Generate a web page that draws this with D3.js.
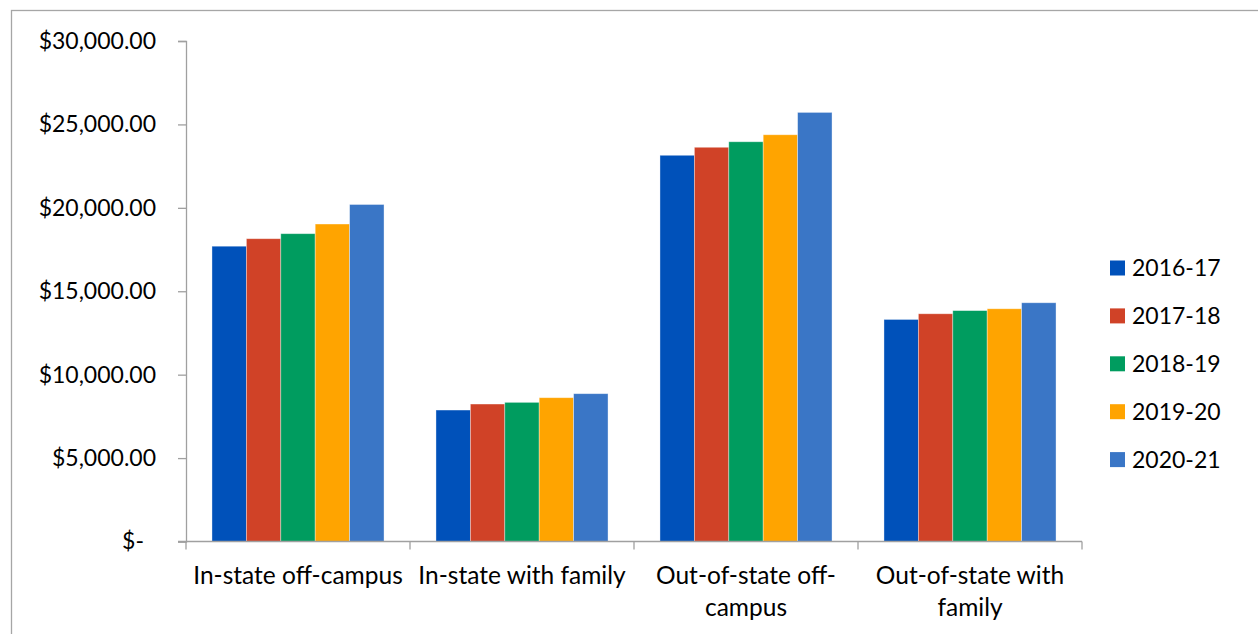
<!DOCTYPE html>
<html>
<head>
<meta charset="utf-8">
<script src="https://cdn.jsdelivr.net/npm/d3@7"></script>
<style>
  body { margin: 0; background: #fff; }
  text { font-family: Lato, 'Open Sans', sans-serif; fill: #000; }
</style>
</head>
<body>
<svg id="chart" width="1258" height="634"></svg>
<script>
// categories along the x axis
const categories = [
  'In-state off-campus',
  'In-state with family',
  'Out-of-state off-campus',
  'Out-of-state with family',
]
// one series per school year
const seriesNames = ['2016-17', '2017-18', '2018-19', '2019-20', '2020-21']
const values2016 = [17700, 7880, 23150, 13310]
const values2017 = [18150, 8240, 23630, 13650]
const values2018 = [18450, 8340, 23960, 13840]
const values2019 = [19030, 8620, 24380, 13950]
const values2020 = [20200, 8860, 25720, 14310]
const yTicks = [0, 5000, 10000, 15000, 20000, 25000, 30000]
const colors = ['#0051ba', '#d04227', '#009c5f', '#ffa400', '#3a76c6']

const seriesValues = [values2016, values2017, values2018, values2019, values2020]

const svg = d3.select('#chart')
const margin = { top: 41, right: 176, bottom: 92.5, left: 186 }
const width = +svg.attr('width') - margin.left - margin.right
const height = +svg.attr('height') - margin.top - margin.bottom

// outer chart frame (runs off the right and bottom of the picture)
svg.append('rect')
  .attr('x', 11.5).attr('y', 10.5)
  .attr('width', 1300).attr('height', 700)
  .attr('fill', 'none')
  .attr('stroke', '#a6a6a6')
  .attr('stroke-width', 1.3)

const g = svg.append('g').attr('transform', 'translate(' + margin.left + ',' + margin.top + ')')

const x0 = d3.scaleBand().domain(categories).range([0, width]).paddingInner(0).paddingOuter(0)
const x1 = d3.scaleBand().domain(seriesNames).range([0, x0.bandwidth()]).paddingInner(0).paddingOuter(0.755)
const y = d3.scaleLinear().domain([0, 30000]).range([height, 0])
const color = d3.scaleOrdinal().domain(seriesNames).range(colors)

const fmt = d3.format('$,.2f')

// Y axis
const yAxis = g.append('g')
  .call(d3.axisLeft(y).tickValues(yTicks).tickSize(8).tickPadding(22)
    .tickFormat((d) => (d === 0 ? '$-' : fmt(d))))
yAxis.select('.domain').attr('stroke', '#a0a0a0').attr('stroke-width', 1.3)
yAxis.selectAll('.tick line').attr('stroke', '#a0a0a0').attr('stroke-width', 1.3)
yAxis.selectAll('.tick text')
  .attr('font-size', 23)
  .attr('font-family', 'Lato, sans-serif')
  .attr('fill', '#000')
  .attr('dx', (d) => (d === 0 ? -12 : 0))

// Bars
g.selectAll('.group')
  .data(categories)
  .enter()
  .append('g')
  .attr('class', 'group')
  .attr('transform', (c) => 'translate(' + x0(c) + ',0)')
  .selectAll('rect')
  .data((c, i) => seriesNames.map((s, k) => ({ series: s, value: seriesValues[k][i] })))
  .enter()
  .append('rect')
  .attr('x', (d) => x1(d.series))
  .attr('y', (d) => y(d.value))
  .attr('width', x1.bandwidth())
  .attr('height', (d) => height - y(d.value))
  .attr('fill', (d) => color(d.series))
  .attr('stroke', '#ffffff')
  .attr('stroke-opacity', 0.45)
  .attr('stroke-width', 0.8)

// X axis line with ticks at category boundaries
const xAxis = g.append('g').attr('transform', 'translate(0,' + height + ')')
xAxis.append('line')
  .attr('x1', -8).attr('x2', width)
  .attr('stroke', '#a0a0a0').attr('stroke-width', 1.3)
const bounds = categories.map((c) => x0(c)).concat([x0(categories[categories.length - 1]) + x0.bandwidth()])
xAxis.selectAll('.bound')
  .data(bounds)
  .enter()
  .append('line')
  .attr('class', 'bound')
  .attr('x1', (d) => d).attr('x2', (d) => d)
  .attr('y1', 0).attr('y2', 8)
  .attr('stroke', '#a0a0a0').attr('stroke-width', 1.3)

// wrap long labels after a space or hyphen, like Excel does
const wrap = (label, maxChars) => {
  const parts = label.match(/[^\s-]+[\s-]?/g)
  const lines = []
  let line = ''
  parts.forEach((p) => {
    if ((line + p).trim().length > maxChars && line) {
      lines.push(line.trim())
      line = p
    } else {
      line += p
    }
  })
  lines.push(line.trim())
  return lines
}

xAxis.selectAll('.cat')
  .data(categories)
  .enter()
  .append('text')
  .attr('class', 'cat')
  .attr('text-anchor', 'middle')
  .attr('font-size', 24.5)
  .attr('transform', (c) => 'translate(' + (x0(c) + x0.bandwidth() / 2) + ',0)')
  .selectAll('tspan')
  .data((c) => wrap(c, 20))
  .enter()
  .append('tspan')
  .attr('x', 0)
  .attr('y', (d, i) => 42 + i * 32.5)
  .text((d) => d)

// Legend
const legend = svg.append('g').attr('transform', 'translate(1110,268)')
const row = legend.selectAll('.row')
  .data(seriesNames)
  .enter()
  .append('g')
  .attr('class', 'row')
  .attr('transform', (d, i) => 'translate(0,' + i * 47.9 + ')')
row.append('rect')
  .attr('x', 0).attr('y', -7.5)
  .attr('width', 15).attr('height', 15)
  .attr('fill', color)
row.append('text')
  .attr('x', 22)
  .attr('dy', '0.35em')
  .attr('font-size', 23)
  .text((d) => d)
</script>
</body>
</html>
